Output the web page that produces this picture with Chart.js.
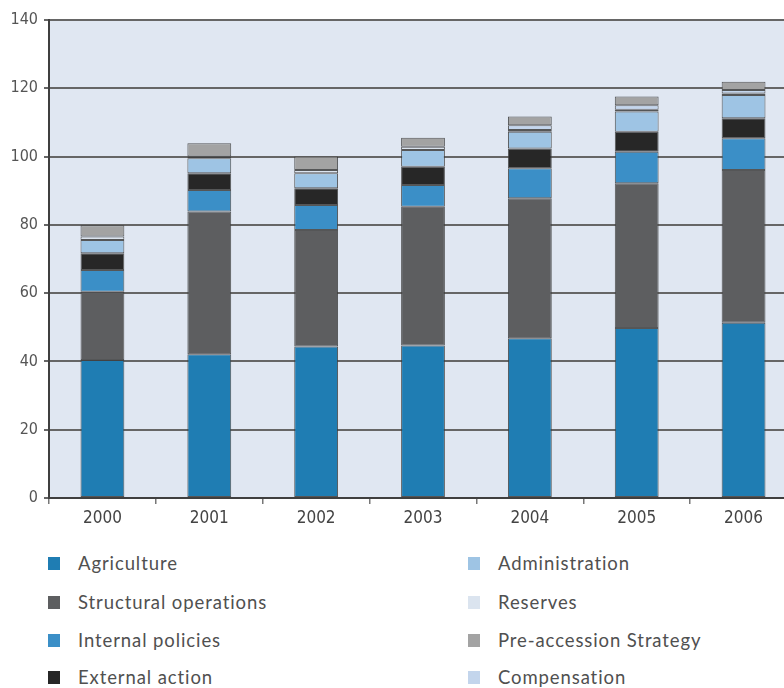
<!DOCTYPE html>
<html>
<head>
<meta charset="utf-8">
<script src="https://cdn.jsdelivr.net/npm/chart.js@4.4.1/dist/chart.umd.min.js"></script>
<style>
  html, body { margin: 0; padding: 0; background: #ffffff; width: 784px; height: 688px; overflow: hidden; }
  #wrap { position: absolute; left: 0; top: 0; width: 812px; height: 540px; }
  #legend { position: absolute; left: 0; top: 548px; width: 784px; height: 140px; font-family: Lato, 'Open Sans', sans-serif; font-size: 18.5px; color: #505050; }
  .item { position: absolute; height: 22px; line-height: 22px; white-space: nowrap; }
  .sw { position: absolute; left: 0; top: 5px; width: 12px; height: 13px; }
  .lbl { position: absolute; left: 30px; top: 0; letter-spacing: 0.9px; }
</style>
</head>
<body>
<div id="wrap"><canvas id="c" width="812" height="540"></canvas></div>
<div id="legend"></div>
<script>
// Budget headings by year (billion EUR)
const years = ['2000', '2001', '2002', '2003', '2004', '2005', '2006'];
const agriculture  = [40.4, 42.1, 44.4, 44.7, 46.8, 49.8, 51.3];
const structural   = [20.0, 41.8, 34.1, 40.6, 41.0, 42.4, 44.8];
const internal     = [6.4, 6.3, 7.3, 6.4, 8.8, 9.2, 9.3];
const external     = [4.9, 4.9, 4.9, 5.3, 5.8, 5.9, 5.8];
const administration = [3.9, 4.4, 4.4, 4.9, 4.9, 5.9, 6.8];
const reserves     = [1.0, 0.5, 1.0, 1.0, 0.5, 0.5, 0.5];
const compensation = [0, 0, 0, 0, 1.4, 1.3, 1.0];
const preAccession = [3.3, 3.9, 3.9, 2.6, 2.5, 2.6, 2.4];
const yTicks = [0, 20, 40, 60, 80, 100, 120, 140];

const series = [
  { label: 'Agriculture', data: agriculture, color: '#1f7db3' },
  { label: 'Structural operations', data: structural, color: '#5d5e60' },
  { label: 'Internal policies', data: internal, color: '#3b8fc7' },
  { label: 'External action', data: external, color: '#272727' },
  { label: 'Administration', data: administration, color: '#9ec4e4' },
  { label: 'Reserves', data: reserves, color: '#dbe4ef' },
  { label: 'Compensation', data: compensation, color: '#c3d5ec' },
  { label: 'Pre-accession Strategy', data: preAccession, color: '#a3a3a3' }
];
const legendColumns = [
  ['Agriculture', 'Structural operations', 'Internal policies', 'External action'],
  ['Administration', 'Reserves', 'Pre-accession Strategy', 'Compensation']
];

const plotBackground = {
  id: 'plotBackground',
  beforeDraw(chart) {
    const { ctx, chartArea: a } = chart;
    ctx.save();
    ctx.fillStyle = '#e0e7f2';
    ctx.fillRect(a.left, a.top, a.right - a.left, a.bottom - a.top);
    ctx.restore();
  }
};

const axisFont = { family: "'Liberation Sans Narrow', 'DejaVu Sans Condensed', sans-serif", size: 16 };

const chart = new Chart(document.getElementById('c'), {
  type: 'bar',
  data: {
    labels: years,
    datasets: series.map(s => ({
      label: s.label,
      data: s.data,
      backgroundColor: s.color,
      borderColor: 'rgba(60,60,60,0.85)',
      borderWidth: 1,
      borderSkipped: false,
      categoryPercentage: 1,
      barPercentage: 0.41
    }))
  },
  options: {
    responsive: false,
    devicePixelRatio: 1,
    animation: false,
    layout: { padding: { left: 0, top: 20, right: 15, bottom: 0 } },
    plugins: { legend: { display: false }, tooltip: { enabled: false } },
    scales: {
      x: {
        stacked: true,
        grid: { offset: true, drawOnChartArea: false, drawTicks: true, tickLength: 6, color: '#777', lineWidth: 1.5 },
        border: { display: true, color: '#3f3f3f', width: 2 },
        ticks: { color: '#444', font: { ...axisFont, size: 17 }, padding: 4 },
        afterFit(scale) { scale.height = 42; }
      },
      y: {
        stacked: true,
        min: 0,
        max: 140,
        afterBuildTicks(scale) { scale.ticks = yTicks.map(v => ({ value: v })); },
        grid: { color: '#666', lineWidth: 2, tickLength: 5 },
        border: { display: true, color: '#3f3f3f', width: 2 },
        ticks: { color: '#555', font: axisFont, padding: 6 },
        afterFit(scale) { scale.width = 49; }
      }
    }
  },
  plugins: [plotBackground]
});

// Two-column legend built from the chart's datasets
const legend = document.getElementById('legend');
const colX = [48, 468];
const rowY = [4, 43, 81, 118];
legendColumns.forEach((col, ci) => {
  col.forEach((name, ri) => {
    const ds = chart.data.datasets.find(d => d.label === name);
    const item = document.createElement('div');
    item.className = 'item';
    item.style.left = colX[ci] + 'px';
    item.style.top = rowY[ri] + 'px';
    item.innerHTML = '<span class="sw" style="background:' + ds.backgroundColor + '"></span><span class="lbl">' + ds.label + '</span>';
    legend.appendChild(item);
  });
});
</script>
</body>
</html>
